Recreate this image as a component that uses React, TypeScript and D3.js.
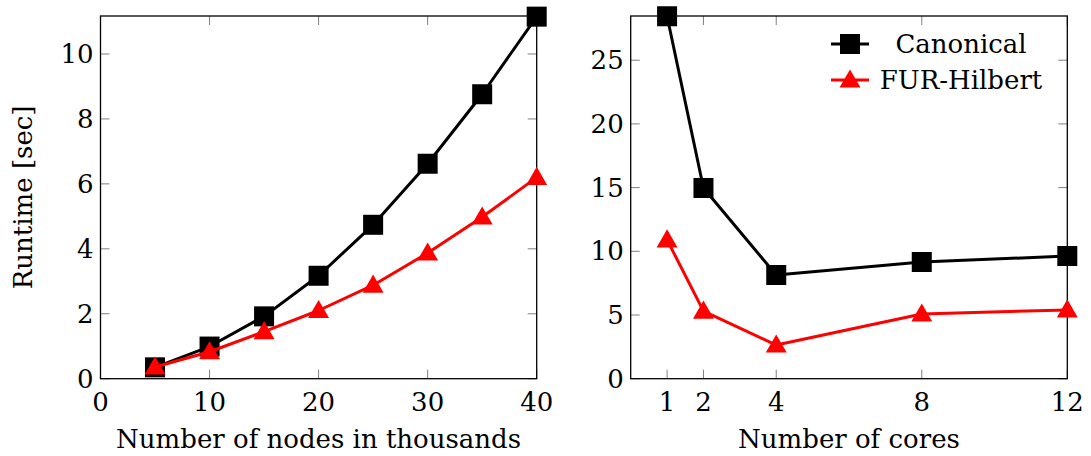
import React from "react";
import * as d3 from "d3";

const nodesX = [5, 10, 15, 20, 25, 30, 35, 40];
const nodesCanonical = [0.35, 0.99, 1.92, 3.17, 4.74, 6.62, 8.76, 11.15];
const nodesHilbert = [0.36, 0.83, 1.45, 2.1, 2.88, 3.87, 4.98, 6.2];
const nodesXTicks = [0, 10, 20, 30, 40];
const nodesYTicks = [0, 2, 4, 6, 8, 10];

const coresX = [1, 2, 4, 8, 12];
const coresCanonical = [28.45, 14.97, 8.14, 9.16, 9.63];
const coresHilbert = [10.9, 5.3, 2.64, 5.08, 5.4];
const coresXTicks = [1, 2, 4, 8, 12];
const coresYTicks = [0, 5, 10, 15, 20, 25];

const seriesNames = ["Canonical", "FUR-Hilbert"];
const seriesColors = ["#000000", "#ff0000"];

const FONT = "'DejaVu Serif', serif";
const FS = 26;
const TICK = 9;
const TICKC = "#808080";

function Marker({ kind, x, y, color }: { kind: string; x: number; y: number; color: string }) {
  if (kind === "square") {
    const s = 20;
    return <rect x={x - s / 2} y={y - s / 2} width={s} height={s} fill={color} />;
  }
  const sym = d3.symbol().type(d3.symbolTriangle).size(190)();
  return <path d={sym as string} transform={`translate(${x},${y + 1.5})`} fill={color} />;
}

function Panel({
  left, right, top, bottom, xDomain, yDomain, xTicks, yTicks, xs, series, xLabel, yLabel,
}: any) {
  const x = d3.scaleLinear().domain(xDomain).range([left, right]);
  const y = d3.scaleLinear().domain(yDomain).range([bottom, top]);
  const line = d3.line<[number, number]>().x((d) => x(d[0])).y((d) => y(d[1]));
  return (
    <g>
      {xTicks.map((t: number) => (
        <g key={"xt" + t}>
          <line x1={x(t)} x2={x(t)} y1={bottom} y2={bottom - TICK} stroke={TICKC} strokeWidth={1} />
          <line x1={x(t)} x2={x(t)} y1={top} y2={top + TICK} stroke={TICKC} strokeWidth={1} />
          <text x={x(t)} y={bottom + 32} textAnchor="middle" fontFamily={FONT} fontSize={FS}>{t}</text>
        </g>
      ))}
      {yTicks.map((t: number) => (
        <g key={"yt" + t}>
          <line x1={left} x2={left + TICK} y1={y(t)} y2={y(t)} stroke={TICKC} strokeWidth={1} />
          <line x1={right} x2={right - TICK} y1={y(t)} y2={y(t)} stroke={TICKC} strokeWidth={1} />
          <text x={left - 7} y={y(t) + 9} textAnchor="end" fontFamily={FONT} fontSize={FS}>{t}</text>
        </g>
      ))}
      <rect x={left} y={top} width={right - left} height={bottom - top} fill="none" stroke="#000" strokeWidth={1.3} />
      {series.map((s: any, i: number) => {
        const pts: [number, number][] = xs.map((xv: number, j: number) => [xv, s.values[j]]);
        return (
          <g key={"s" + i}>
            <path d={line(pts) as string} fill="none" stroke={s.color} strokeWidth={3} strokeLinejoin="round" />
            {pts.map((p, j) => (
              <Marker key={j} kind={s.marker} x={x(p[0])} y={y(p[1])} color={s.color} />
            ))}
          </g>
        );
      })}
      <text x={(left + right) / 2} y={bottom + 69} textAnchor="middle" fontFamily={FONT} fontSize={FS}>{xLabel}</text>
      {yLabel && (
        <text transform={`translate(${left - 69},${(top + bottom) / 2}) rotate(-90)`} textAnchor="middle" fontFamily={FONT} fontSize={FS}>{yLabel}</text>
      )}
    </g>
  );
}

export default function App() {
  const top = 16;
  const bottom = 378.7;
  return (
    <svg width={1091} height={456} style={{ position: "absolute", left: 0, top: 0 }}>
      <rect width={1091} height={456} fill="#fff" />
      <Panel
        left={100.5} right={536.7} top={top} bottom={bottom}
        xDomain={[0, 40]} yDomain={[0, 11.17]}
        xTicks={nodesXTicks} yTicks={nodesYTicks} xs={nodesX}
        series={[
          { values: nodesCanonical, color: seriesColors[0], marker: "square" },
          { values: nodesHilbert, color: seriesColors[1], marker: "triangle" },
        ]}
        xLabel="Number of nodes in thousands" yLabel="Runtime [sec]"
      />
      <Panel
        left={630.7} right={1067.3} top={top} bottom={bottom}
        xDomain={[0, 12]} yDomain={[0, 28.47]}
        xTicks={coresXTicks} yTicks={coresYTicks} xs={coresX}
        series={[
          { values: coresCanonical, color: seriesColors[0], marker: "square" },
          { values: coresHilbert, color: seriesColors[1], marker: "triangle" },
        ]}
        xLabel="Number of cores" yLabel=""
      />
      {seriesNames.map((n, i) => {
        const cy = 44 + i * 36;
        return (
          <g key={n}>
            <line x1={831} x2={869} y1={cy} y2={cy} stroke={seriesColors[i]} strokeWidth={3} />
            <Marker kind={i === 0 ? "square" : "triangle"} x={850} y={cy} color={seriesColors[i]} />
            <text x={961} y={cy + 9} textAnchor="middle" fontFamily={FONT} fontSize={FS}>{n}</text>
          </g>
        );
      })}
    </svg>
  );
}
